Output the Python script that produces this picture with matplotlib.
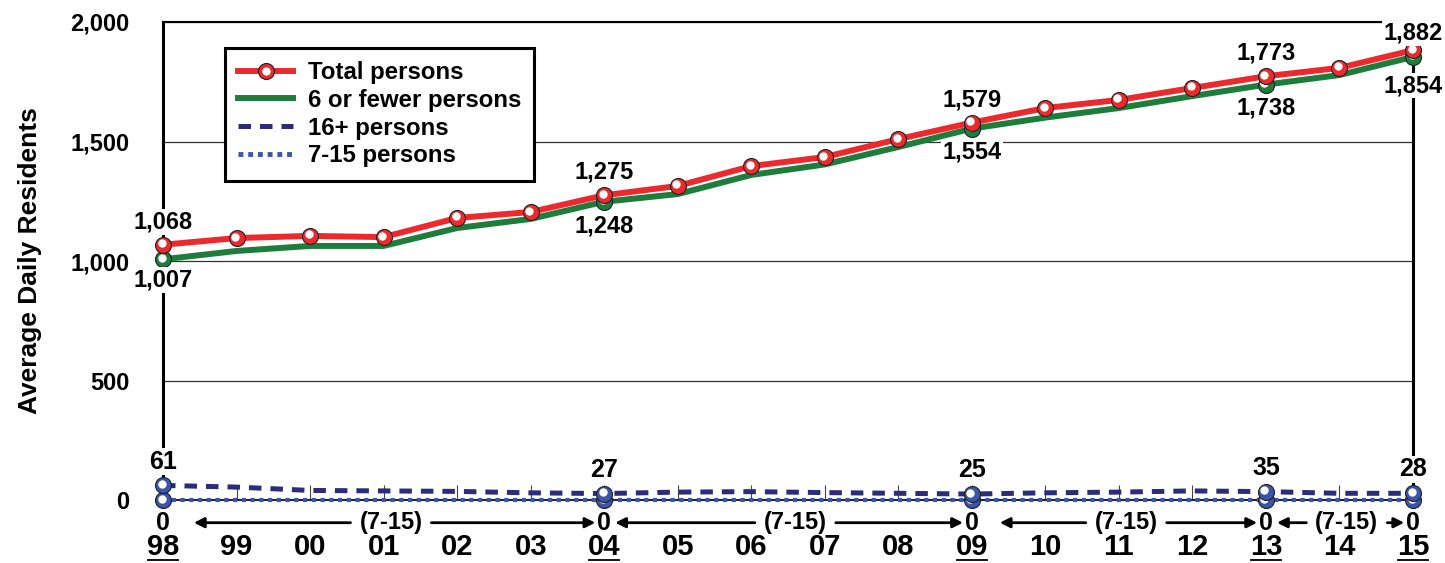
import matplotlib
matplotlib.use("Agg")
import matplotlib.pyplot as plt
import matplotlib.transforms as mtransforms
from matplotlib.lines import Line2D

# ---- data ----
years = ['98', '99', '00', '01', '02', '03', '04', '05', '06',
         '07', '08', '09', '10', '11', '12', '13', '14', '15']
total = [1068, 1096, 1105, 1100, 1180, 1205, 1275, 1314, 1397,
         1435, 1510, 1579, 1640, 1674, 1724, 1773, 1808, 1882]
six_or_fewer = [1007, 1042, 1063, 1063, 1138, 1176, 1248, 1280, 1360,
                1404, 1477, 1554, 1600, 1640, 1690, 1738, 1778, 1854]
sixteen_plus = [61, 54, 40, 38, 36, 30, 27, 33, 35,
                31, 28, 25, 30, 33, 38, 35, 28, 28]
seven_fifteen = [0] * 18
key_years = ['98', '04', '09', '13', '15']

RED = '#EC2A2E'
GREEN = '#1F7D3C'
NAVY = '#2B2C7A'
BLUE = '#3B55A8'

plt.rcParams['font.family'] = ['Liberation Sans', 'DejaVu Sans']
plt.rcParams['font.weight'] = 'bold'
FS = 17
NARROW = ['Liberation Sans Narrow', 'Liberation Sans', 'DejaVu Sans']

x = list(range(len(years)))
key_idx = [years.index(k) for k in key_years]

fig = plt.figure(figsize=(14.45, 5.63), dpi=100)
ax = fig.add_axes([163 / 1445, 63 / 563, 1250 / 1445, 478 / 563])

# highlight offset for the "ball" markers
hl = ax.transData + mtransforms.ScaledTranslation(-1.5 / 100, 1.5 / 100, fig.dpi_scale_trans)


def balls(xs, ys, color, z):
    ax.plot(xs, ys, ls='none', marker='o', ms=11.5, mfc=color, mec='#202020',
            mew=0.8, zorder=z, clip_on=False)
    ax.plot(xs, ys, ls='none', marker='o', ms=6, mfc='white', mec='none',
            zorder=z + 0.1, clip_on=False, transform=hl)


# lines
ax.plot(x, seven_fifteen, color=BLUE, lw=3, ls=(0, (1, 1.1)), zorder=4, clip_on=False)
ax.plot(x, sixteen_plus, color=NAVY, lw=3.6, ls=(0, (2.5, 1.8)), zorder=4, clip_on=False)
ax.plot(x, six_or_fewer, color=GREEN, lw=4.3, zorder=5, solid_joinstyle='miter')
ax.plot(x, total, color=RED, lw=4.3, zorder=6, solid_joinstyle='miter')

# markers
balls(key_idx, [seven_fifteen[i] for i in key_idx], BLUE, 7)
balls(key_idx, [sixteen_plus[i] for i in key_idx], BLUE, 7.5)
balls(key_idx, [six_or_fewer[i] for i in key_idx], GREEN, 8)
balls(x, total, RED, 9)

# axes styling
ax.set_xlim(0, len(years) - 1)
ax.set_ylim(0, 2000)
ax.set_yticks([0, 500, 1000, 1500, 2000])
ax.set_yticklabels(['0', '500', '1,000', '1,500', '2,000'], fontsize=FS, fontweight='bold')
ax.tick_params(axis='y', length=0, pad=24)
ax.yaxis.grid(True, color='#333333', lw=0.9)
ax.set_axisbelow(True)
ax.set_xticks(x)
ax.set_xticklabels(years, fontsize=21, fontweight='bold', family=NARROW)
ax.tick_params(axis='x', direction='in', length=11, width=0.8, color='#444444', pad=24)
for s in ['left', 'right']:
    ax.spines[s].set_linewidth(2.2)
    ax.spines[s].set_zorder(3)
ax.spines['top'].set_linewidth(1.5)
ax.spines['bottom'].set_linewidth(1.5)
ax.spines['bottom'].set_color('#222244')

ax.set_ylabel('Average Daily Residents', fontsize=19, fontweight='bold')
ax.yaxis.set_label_coords(-0.097, 0.5)

# underline key years
for i in key_idx:
    ax.plot([i - 0.2, i + 0.2], [-252, -252], color='black', lw=1.3, clip_on=False)

# data labels
box = dict(fc='white', ec='none', pad=1)
up_off = [96, 96, 96, 96, 70]
down_off = [88, 100, 96, 96, 120]
for k, i in enumerate(key_idx):
    ax.text(i, total[i] + up_off[k], f'{total[i]:,}', ha='center', va='center',
            fontsize=FS, fontweight='bold', bbox=box, zorder=10)
    ax.text(i, six_or_fewer[i] - down_off[k], f'{six_or_fewer[i]:,}', ha='center',
            va='center', fontsize=FS, fontweight='bold', bbox=box, zorder=10)
    ax.text(i, sixteen_plus[i] + 100, f'{sixteen_plus[i]:,}', ha='center', va='center',
            fontsize=18, fontweight='bold', family=NARROW, bbox=box, zorder=10)
    ax.text(i, -95, f'{seven_fifteen[i]:,}', ha='center', va='center',
            fontsize=18, fontweight='bold', family=NARROW, zorder=10)

# (7-15) arrows between key years
left_gap = [0.42, 0.15, 0.38, 0.15]
for k, (a, b) in enumerate(zip(key_idx[:-1], key_idx[1:])):
    mid = (a + b) / 2 + 0.1
    ax.text(mid, -95, '(7-15)', ha='center', va='center', fontsize=17,
            fontweight='bold', family=NARROW, zorder=10)
    half = 0.55
    arrow = dict(arrowstyle='-|>', color='black', lw=2, mutation_scale=15,
                 shrinkA=0, shrinkB=0)
    ax.annotate('', xy=(a + left_gap[k], -95), xytext=(mid - half, -95),
                arrowprops=arrow, annotation_clip=False)
    ax.annotate('', xy=(b - 0.12, -95), xytext=(mid + half, -95),
                arrowprops=arrow, annotation_clip=False)

# legend
h_total = (Line2D([], [], color=RED, lw=4.3),
           Line2D([], [], ls='none', marker='o', ms=11.5, mfc=RED, mec='#202020', mew=0.8),
           Line2D([], [], ls='none', marker='o', ms=6, mfc='white', mec='none'))
h_green = Line2D([], [], color=GREEN, lw=4.3)
h_navy = Line2D([], [], color=NAVY, lw=3.6, ls=(0, (2.5, 1.8)))
h_blue = Line2D([], [], color=BLUE, lw=3.5, ls=(0, (1, 1)))
leg = ax.legend([h_total, h_green, h_navy, h_blue],
                ['Total persons', '6 or fewer persons', '16+ persons', '7-15 persons'],
                loc='upper left', bbox_to_anchor=(0.0496, 0.946), borderaxespad=0,
                prop={'weight': 'bold', 'size': 17.3},
                frameon=True, fancybox=False, framealpha=1, edgecolor='black',
                handlelength=2.3, labelspacing=0.2, borderpad=0.55, handletextpad=0.6)
leg.get_frame().set_linewidth(2.2)
leg.set_zorder(12)

fig.savefig('out.png', dpi=100)
